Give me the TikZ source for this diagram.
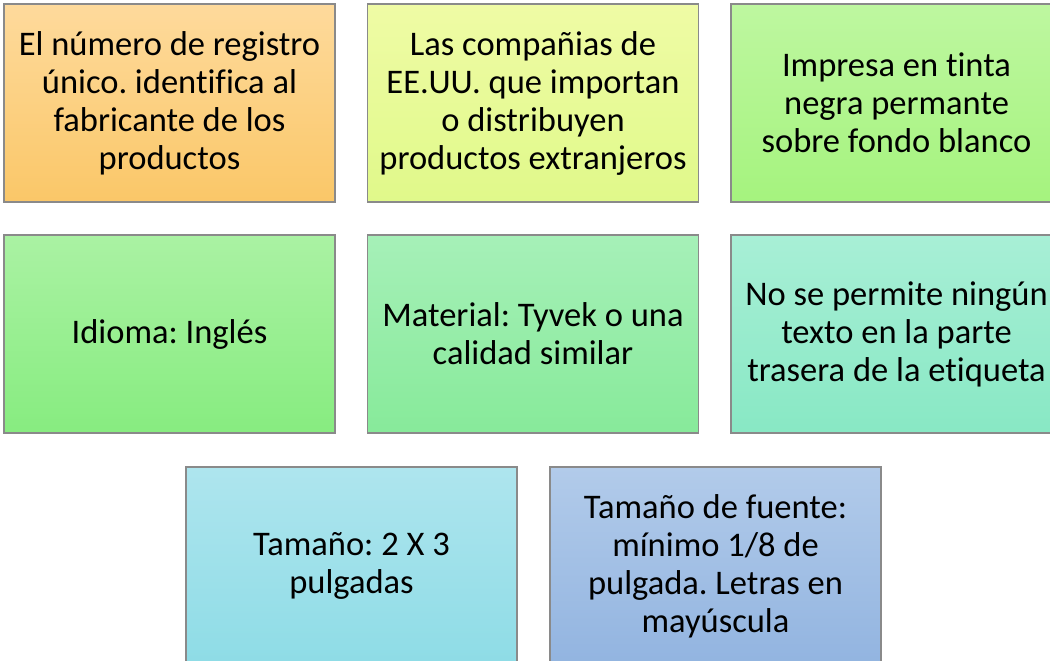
\documentclass[tikz,border=0pt]{standalone}
\usepackage{fontspec}
\setmainfont[Ligatures=NoCommon]{Carlito}
\usepackage{tikz}
\usetikzlibrary{positioning}
\frenchspacing

\definecolor{orangetop}{HTML}{FEDA9C}
\definecolor{orangebot}{HTML}{FAC768}
\definecolor{limetop}{HTML}{EFFBA5}
\definecolor{limebot}{HTML}{E0F98A}
\definecolor{lgreentop}{HTML}{BEF7A0}
\definecolor{lgreenbot}{HTML}{A5F37E}
\definecolor{greentop}{HTML}{AAF2A3}
\definecolor{greenbot}{HTML}{87EC80}
\definecolor{mintop}{HTML}{A6F0B8}
\definecolor{minbot}{HTML}{87EA9A}
\definecolor{aquatop}{HTML}{A8EFD6}
\definecolor{aquabot}{HTML}{88E8C4}
\definecolor{cyantop}{HTML}{AEE5EE}
\definecolor{cyanbot}{HTML}{8EDCE6}
\definecolor{bluetop}{HTML}{B2CBEA}
\definecolor{bluebot}{HTML}{92B4E0}
\definecolor{edgegray}{HTML}{8A8A8A}

\tikzset{
  reqbox/.style 2 args={draw=edgegray, line width=1.2pt, top color=#1, bottom color=#2,
    minimum width=331pt, minimum height=198pt, align=center,
    inner sep=0pt, font=\fontsize{34.5pt}{38pt}\selectfont}
}

\begin{document}
\begin{tikzpicture}[x=1pt, y=-1pt]

    \useasboundingbox (0,0) rectangle (1050,661);
    \clip (0,0) rectangle (1050,661);

    
    \node[reqbox={orangetop}{orangebot}] (reg)  at (169.5,103) {El número de registro\\único. identifica al\\fabricante de los\\productos};
    \node[reqbox={limetop}{limebot}]     (comp) at (533,103)   {Las compañias de\\EE.UU. que importan\\o distribuyen\\productos extranjeros};
    \node[reqbox={lgreentop}{lgreenbot}] (tint) at (896.5,103) {Impresa en tinta\\negra permante\\sobre fondo blanco};

    
    \node[reqbox={greentop}{greenbot}]   (idio) at (169.5,334) {Idioma: Inglés};
    \node[reqbox={mintop}{minbot}]       (mat)  at (533,334)   {Material: Tyvek o una\\calidad similar};
    \node[reqbox={aquatop}{aquabot}]     (tras) at (896.5,334) {No se permite ningún\\texto en la parte\\trasera de la etiqueta};

    
    \node[reqbox={cyantop}{cyanbot}]     (tam)  at (351.5,566) {Tamaño: 2 X 3\\pulgadas};
    \node[reqbox={bluetop}{bluebot}]     (fue)  at (715.5,566) {Tamaño de fuente:\\mínimo 1/8 de\\pulgada. Letras en\\mayúscula};

\end{tikzpicture}
\end{document}
